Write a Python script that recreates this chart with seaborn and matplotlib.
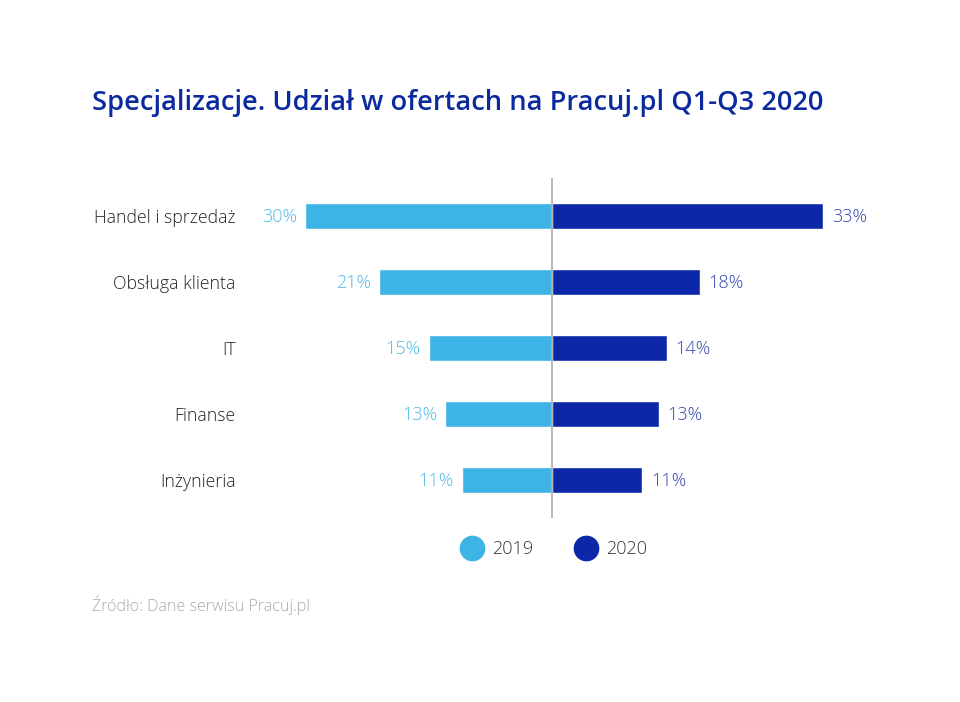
import matplotlib
matplotlib.use("Agg")
import matplotlib.pyplot as plt
import seaborn as sns
import pandas as pd
import numpy as np
from matplotlib.lines import Line2D

categories = ["Handel i sprzedaż", "Obsługa klienta", "IT", "Finanse", "Inżynieria"]
values_2019 = [30, 21, 15, 13, 11]
values_2020 = [33, 18, 14, 13, 11]
series_labels = ["2019", "2020"]

c2019 = "#3DB4E5"
c2020 = "#0C28A8"

sns.set_theme(style="white")
plt.rcParams['font.family'] = ['Open Sans', 'DejaVu Sans']

W, H = 960, 702
fig = plt.figure(figsize=(W / 100, H / 100), dpi=100)

# axes placement in pixels
ax_left, ax_right = 240, 900
ax_top, ax_bottom = 178, 518
ax = fig.add_axes([ax_left / W, 1 - ax_bottom / H, (ax_right - ax_left) / W, (ax_bottom - ax_top) / H])

df = pd.DataFrame({"cat": categories, "v2019": values_2019, "v2020": values_2020})
df["neg2019"] = -df["v2019"]

sns.barplot(data=df, x="neg2019", y="cat", orient="h", color=c2019, width=0.39,
            saturation=1, ax=ax)
sns.barplot(data=df, x="v2020", y="cat", orient="h", color=c2020, width=0.39,
            saturation=1, ax=ax)

scale = 8.22  # px per percent
center = 552
ax.set_xlim(-(center - ax_left) / scale, (ax_right - center) / scale)
ax.set_ylim(4 + 0.576, -0.576)

ax.axvline(0, color="#AAAAAA", lw=1.2, zorder=5)

for i, (a, b) in enumerate(zip(values_2019, values_2020)):
    ax.text(-a - 1.0, i + 0.02, f"{a}%", ha="right", va="center", color="#4FB9E8",
            fontsize=13, fontweight="light")
    ax.text(b + 1.05, i + 0.02, f"{b}%", ha="left", va="center", color="#3445B0",
            fontsize=13, fontweight="light")

ax.set_xlabel("")
ax.set_ylabel("")
ax.set_xticks([])
ax.tick_params(axis="y", length=0, pad=3)
for lab in ax.get_yticklabels():
    lab.set_fontsize(12.7)
    lab.set_color("#222222")
    lab.set_fontweight("light")
for s in ax.spines.values():
    s.set_visible(False)

fig.text(92 / W, 1 - 103 / H, "Specjalizacje. Udział w ofertach na Pracuj.pl Q1-Q3 2020",
         ha="left", va="center", fontsize=19.6, fontweight="semibold", color="#0A2A9E")

handles = [Line2D([0], [0], marker="o", linestyle="", markersize=17.5, markerfacecolor=c2019,
                  markeredgecolor=c2019),
           Line2D([0], [0], marker="o", linestyle="", markersize=17.5, markerfacecolor=c2020,
                  markeredgecolor=c2020)]
leg = fig.legend(handles, series_labels, loc="center", bbox_to_anchor=(554 / W, 1 - 549 / H),
                 ncol=2, frameon=False, fontsize=13, handletextpad=0.5, columnspacing=2.35,
                 handlelength=1.2)
for t in leg.get_texts():
    t.set_color("#333333")
    t.set_fontweight("light")

fig.text(92 / W, 1 - 605 / H, "Źródło: Dane serwisu Pracuj.pl", ha="left", va="center",
         fontsize=11.6, color="#AAAAAA", fontweight="light")

fig.savefig("out.png", dpi=100, facecolor="white")
